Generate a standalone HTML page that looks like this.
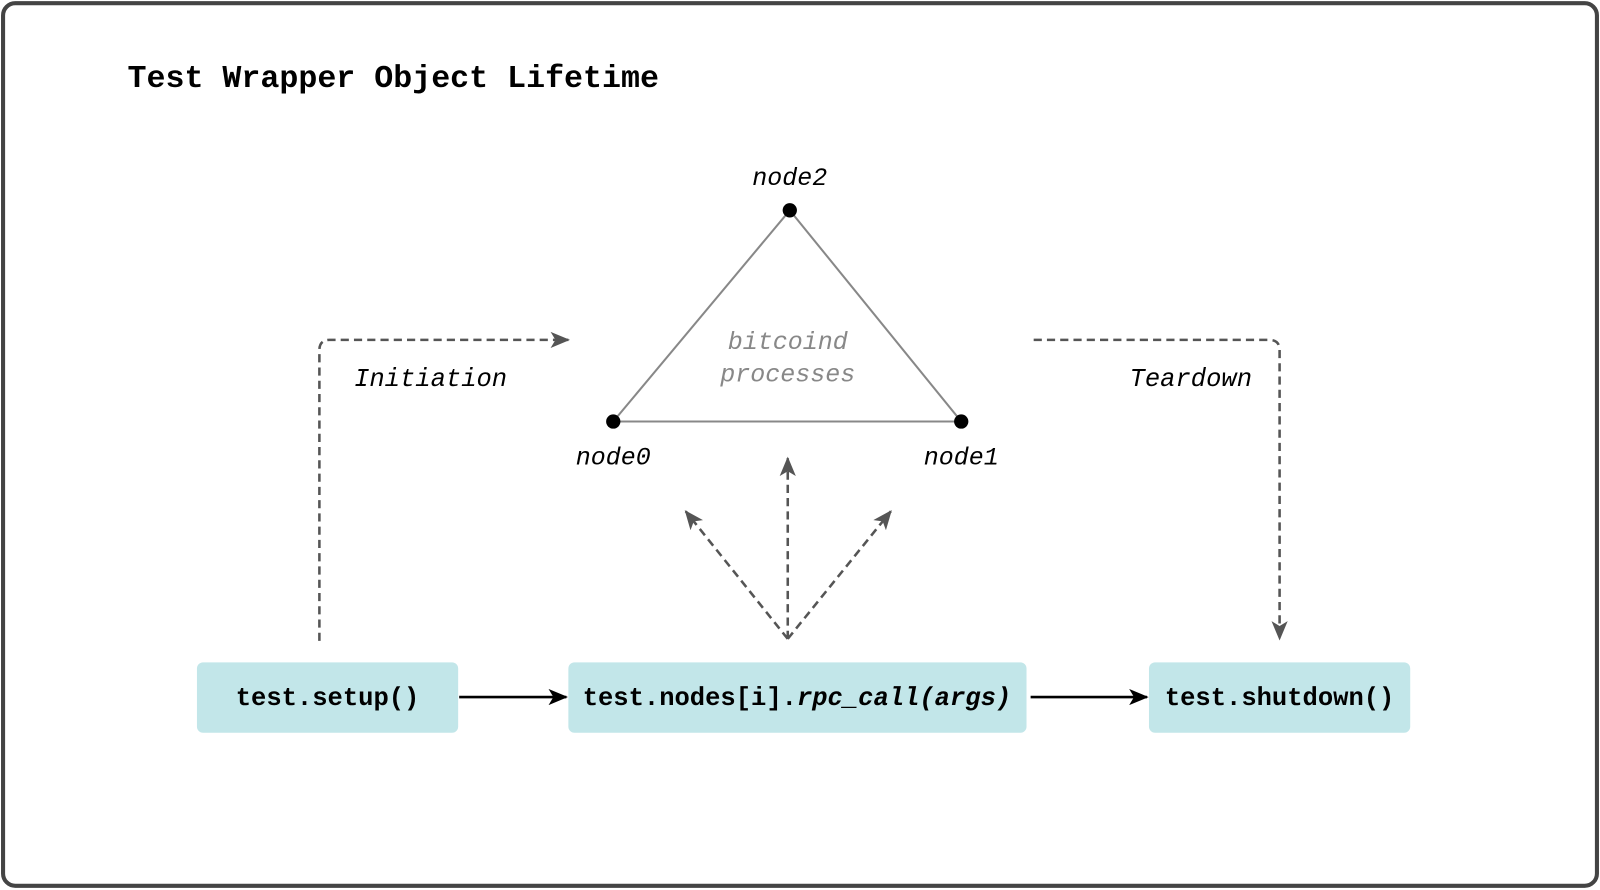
<!DOCTYPE html>
<html><head><meta charset="utf-8"><style>
html,body{margin:0;padding:0;background:#fff;}
svg{display:block;}
text{font-family:"Liberation Mono","DejaVu Sans Mono",monospace;}
</style></head><body>
<svg width="1600" height="890" viewBox="0 0 1568 872" xmlns="http://www.w3.org/2000/svg">
<defs>
<marker id="ag" viewBox="0 0 12 10" refX="11" refY="5" markerWidth="19" markerHeight="16" markerUnits="userSpaceOnUse" orient="auto">
<path d="M0,0 L12,5 L0,10 L3,5 Z" fill="#555"/></marker>
<marker id="ab" viewBox="0 0 12 10" refX="11" refY="5" markerWidth="19" markerHeight="16" markerUnits="userSpaceOnUse" orient="auto">
<path d="M0,0 L12,5 L0,10 L3,5 Z" fill="#000"/></marker>
</defs>
<rect x="3" y="3" width="1562" height="865" rx="12" fill="#fff" stroke="#444" stroke-width="4"/>
<text x="125" y="85" font-size="31" font-weight="bold" fill="#000">Test Wrapper Object Lifetime</text>

<polygon points="774,206 601,413 942,413" fill="none" stroke="#888" stroke-width="2"/>
<circle cx="774" cy="206" r="7" fill="#000"/>
<circle cx="601" cy="413" r="7" fill="#000"/>
<circle cx="942" cy="413" r="7" fill="#000"/>
<text x="774" y="181" font-size="24.5" font-style="italic" text-anchor="middle">node2</text>
<text x="601" y="455" font-size="24.5" font-style="italic" text-anchor="middle">node0</text>
<text x="942" y="455" font-size="24.5" font-style="italic" text-anchor="middle">node1</text>
<text x="772" y="342" font-size="24.5" font-style="italic" fill="#888" text-anchor="middle">bitcoind</text>
<text x="772" y="374" font-size="24.5" font-style="italic" fill="#888" text-anchor="middle">processes</text>

<g fill="none" stroke="#555" stroke-width="2.5" stroke-dasharray="8,5">
<path d="M313,628 L313,343 Q313,333 323,333 L557,333" marker-end="url(#ag)"/>
<path d="M1013,333 L1244,333 Q1254,333 1254,343 L1254,626" marker-end="url(#ag)"/>
<path d="M772,626 L772,449" marker-end="url(#ag)"/>
<path d="M772,626 L672,501" marker-end="url(#ag)"/>
<path d="M772,626 L873,501" marker-end="url(#ag)"/>
</g>
<text x="347" y="378" font-size="25" font-style="italic">Initiation</text>
<text x="1107" y="378" font-size="25" font-style="italic">Teardown</text>

<rect x="193" y="649" width="256" height="69" rx="6" fill="#c2e6e9"/>
<rect x="557" y="649" width="449" height="69" rx="6" fill="#c2e6e9"/>
<rect x="1126" y="649" width="256" height="69" rx="6" fill="#c2e6e9"/>
<text x="321" y="691" font-size="25" font-weight="bold" text-anchor="middle">test.setup()</text>
<text x="781" y="691" font-size="25" font-weight="bold" text-anchor="middle">test.nodes[i].<tspan font-style="italic">rpc_call(args)</tspan></text>
<text x="1254" y="691" font-size="25" font-weight="bold" text-anchor="middle">test.shutdown()</text>
<g stroke="#000" stroke-width="2.5">
<line x1="450" y1="683" x2="555" y2="683" marker-end="url(#ab)"/>
<line x1="1010" y1="683" x2="1124" y2="683" marker-end="url(#ab)"/>
</g>
</svg>
</body></html>
